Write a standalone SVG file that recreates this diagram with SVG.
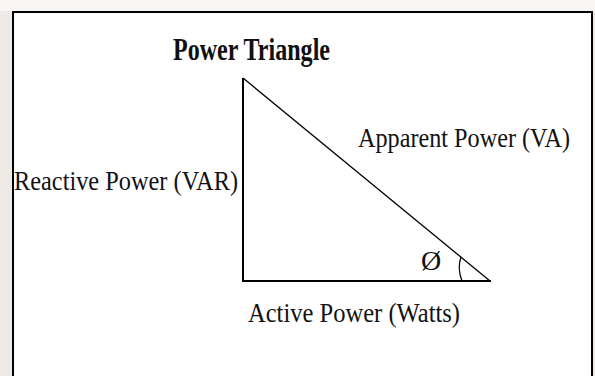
<svg xmlns="http://www.w3.org/2000/svg" width="595" height="376" viewBox="0 0 595 376">
  <style>
    .lbl { font-family: "Liberation Serif", "Times New Roman", serif; font-size: 28px; fill: #111; }
    .title { font-family: "Liberation Serif", "Times New Roman", serif; font-size: 31px; font-weight: bold; fill: #111; }
    .side { stroke: #000; stroke-width: 2; fill: none; }
    .hyp { stroke: #000; stroke-width: 1.3; fill: none; }
  </style>
  <rect x="0" y="0" width="595" height="376" fill="#efeae5"/>
  <rect x="0" y="0" width="595" height="11" fill="#f8f6f3"/>
  <rect x="13" y="12" width="579" height="370" fill="#ffffff" stroke="#000" stroke-width="2"/>
  <g id="title">
    <text class="title" x="173" y="60" textLength="157" lengthAdjust="spacingAndGlyphs">Power Triangle</text>
  </g>
  <g id="connectors">
    <line class="side" x1="243" y1="78" x2="243" y2="282"/>
    <line class="side" x1="242" y1="281" x2="491" y2="281"/>
    <line class="hyp" x1="243" y1="78" x2="490" y2="281"/>
    <path class="hyp" d="M461,257 Q457,268 462,281"/>
  </g>
  <g id="reactive">
    <text class="lbl" x="14" y="190" textLength="224" lengthAdjust="spacingAndGlyphs">Reactive Power (VAR)</text>
  </g>
  <g id="apparent">
    <text class="lbl" x="358" y="147" textLength="212" lengthAdjust="spacingAndGlyphs">Apparent Power (VA)</text>
  </g>
  <g id="active">
    <text class="lbl" x="248" y="322" textLength="212" lengthAdjust="spacingAndGlyphs">Active Power (Watts)</text>
  </g>
  <g id="angle">
    <text class="lbl" x="421" y="270" font-size="25">Ø</text>
  </g>
</svg>
